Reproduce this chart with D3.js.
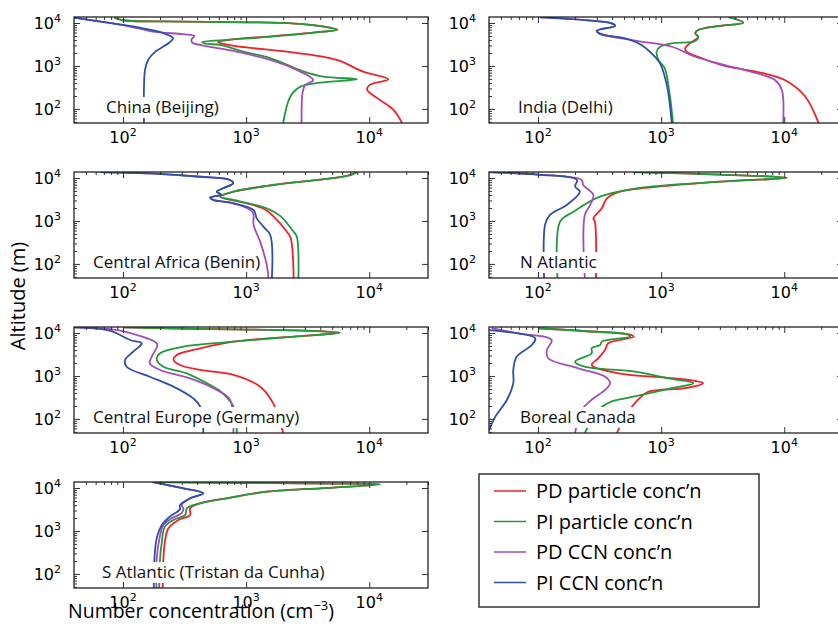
<!DOCTYPE html>
<html>
<head>
<meta charset="utf-8">
<script src="https://cdn.jsdelivr.net/npm/d3@7"></script>
<style>
  body { margin: 0; background: #fff; }
</style>
</head>
<body>
<div id="chart"></div>
<script>
// series: order of drawing = order of legend
const seriesNames = ['PD particle conc\u2019n', 'PI particle conc\u2019n', 'PD CCN conc\u2019n', 'PI CCN conc\u2019n'];
const seriesColors = ['#f2202a', '#23993c', '#a24db8', '#2f4fa8'];

const regions = ['China (Beijing)', 'India (Delhi)', 'Central Africa (Benin)', 'N Atlantic',
    'Central Europe (Germany)', 'Boreal Canada', 'S Atlantic (Tristan da Cunha)'];

const chinaPDpart = [[85,13300],[100,11600],[300,10800],[1000,10400],[2500,9700],[4200,8300],[5500,7000],[4000,6200],[1600,4900],[800,4200],[590,3600],[700,3150],[1010,2700],[2140,2150],[5450,1380],[8900,740],[14300,490],[10100,363],[9600,280],[11600,178],[15700,95],[18500,47]];
const chinaPIpart = [[85,13300],[100,11600],[300,10800],[1000,10400],[2500,9700],[4200,8300],[5500,7000],[4000,6200],[1600,4800],[650,4000],[440,3600],[470,3300],[615,3080],[950,2150],[1570,1530],[2950,740],[4240,563],[7950,490],[4000,410],[2760,330],[2290,195],[2000,47]];
const chinaPDccn = [[40,13300],[70,10500],[110,8500],[175,6300],[307,5500],[380,5000],[360,4100],[365,3500],[430,3050],[839,2150],[1570,1380],[2580,807],[3510,472],[3020,363],[2880,250],[2820,47]];
const chinaPIccn = [[40,13300],[70,10500],[120,8300],[211,5850],[255,4480],[241,3610],[182,2120],[160,1380],[151,807],[148,300],[148,47]];

const indiaPDpart = [[3500,13800],[4650,10200],[2900,8500],[2000,6870],[1890,5760],[2000,4800],[1800,3700],[1650,3080],[1570,2600],[1600,2200],[2140,1510],[3300,1000],[6600,690],[10100,472],[14800,195],[19000,47]];
const indiaPIpart = [[3500,13800],[4650,10200],[2900,8500],[2000,6870],[1890,5760],[2000,4800],[1890,3800],[1220,3370],[980,2800],[920,2150],[950,1380],[1070,880],[1150,330],[1250,47]];
const indiaPDccn = [[104,13500],[240,11700],[397,9800],[423,8600],[300,6600],[330,5500],[617,3880],[1220,2800],[1890,1640],[3300,1050],[6600,620],[8400,472],[9550,280],[9800,47]];
const indiaPIccn = [[104,13500],[240,11700],[397,9800],[423,8600],[300,6600],[320,5500],[510,4400],[692,3080],[890,1640],[980,1150],[1120,330],[1220,47]];

const beninPDpart = [[7950,13800],[7000,11700],[3760,9000],[1660,6870],[789,4800],[615,3670],[760,3080],[1350,2000],[1660,1300],[2140,563],[2300,400],[2430,47]];
const beninPIpart = [[7950,13800],[7000,11700],[3760,9000],[1660,6870],[789,4800],[615,3670],[789,3080],[1470,1970],[1900,1300],[2430,563],[2580,430],[2660,47]];
const beninPDccn = [[65,13800],[165,12800],[423,10700],[740,9000],[785,7540],[650,5760],[577,4800],[630,4100],[510,3500],[540,3100],[789,2580],[1130,1600],[1150,807],[1300,330],[1470,95],[1520,47]];
const beninPIccn = [[65,13800],[165,12800],[423,10700],[740,9000],[785,7540],[650,5760],[577,4800],[630,4100],[510,3500],[540,3100],[789,2580],[1150,1800],[1220,1150],[1380,740],[1570,472],[1620,47]];

const natlPDpart = [[590,13800],[3000,12000],[10500,10200],[3020,8200],[900,6200],[464,4800],[363,3370],[330,1970],[282,1150],[290,960],[296,47]];
const natlPIpart = [[590,13800],[3000,12000],[10500,10200],[3020,8200],[633,5760],[318,3670],[194,1640],[151,960],[144,47]];
const natlPDccn = [[40,13800],[100,12000],[226,9000],[233,6870],[282,4000],[265,2360],[240,1380],[240,47]];
const natlPIccn = [[40,13800],[100,12000],[207,9000],[200,6300],[219,4800],[171,2360],[125,1380],[114,807],[112,47]];

const gerPDpart = [[100,13500],[400,12500],[2500,11500],[5750,10200],[2760,8500],[789,6300],[423,4400],[273,3080],[257,2360],[290,1800],[423,1380],[789,1060],[1300,563],[1660,230],[2000,47]];
const gerPIpart = [[100,13500],[400,12500],[2500,11500],[5750,10200],[2760,8500],[789,6300],[309,4800],[200,3370],[188,2360],[213,1640],[330,1150],[540,563],[600,470],[789,195],[840,47]];
const gerPDccn = [[40,13500],[95,11300],[188,5760],[190,5000],[171,2800],[165,1970],[200,1380],[351,880],[577,472],[740,280],[789,47]];
const gerPIccn = [[40,13500],[78,11300],[114,6870],[142,5760],[121,3670],[104,2360],[107,1640],[165,960],[257,563],[372,300],[423,195],[450,47]];

const canPDpart = [[100,12900],[250,11000],[560,9200],[600,8200],[372,5760],[350,4000],[309,2580],[273,1800],[450,1150],[1290,880],[2190,680],[1570,520],[790,430],[650,280],[510,113],[437,47]];
const canPIpart = [[100,12900],[250,11000],[540,9200],[560,8300],[330,6300],[320,5260],[273,4400],[273,3370],[200,2150],[240,1640],[615,1260],[1150,880],[1830,680],[1220,520],[510,300],[397,255],[309,160],[240,47]];
const canPDccn = [[42,12900],[69,9800],[129,6870],[118,4000],[121,2580],[213,1510],[351,960],[385,680],[351,472],[273,280],[226,160],[200,47]];
const canPIccn = [[40,11700],[95,7540],[89,5260],[67,2800],[63,1380],[63,680],[56,280],[45,113],[40,55]];

const satPDpart = [[180,13800],[1000,13200],[5000,12700],[12300,12200],[5120,10200],[1470,8200],[696,5760],[423,4400],[351,3370],[351,2360],[282,1800],[234,1150],[219,563],[213,230],[210,47]];
const satPIpart = [[180,13800],[1000,13200],[5000,12700],[12300,12200],[5120,10200],[1470,8200],[696,5760],[423,4400],[330,3370],[320,2360],[257,1800],[219,1260],[207,563],[200,230],[197,47]];
const satPDccn = [[175,13800],[290,10200],[450,7540],[351,5760],[300,4000],[309,3370],[300,2600],[248,1970],[213,1380],[198,680],[188,230],[187,47]];
const satPIccn = [[175,13800],[290,10200],[450,7540],[351,5760],[290,4000],[290,3200],[240,2150],[207,1380],[188,680],[180,230],[178,47]];

const profiles = [
    [chinaPDpart, chinaPIpart, chinaPDccn, chinaPIccn],
    [indiaPDpart, indiaPIpart, indiaPDccn, indiaPIccn],
    [beninPDpart, beninPIpart, beninPDccn, beninPIccn],
    [natlPDpart, natlPIpart, natlPDccn, natlPIccn],
    [gerPDpart, gerPIpart, gerPDccn, gerPIccn],
    [canPDpart, canPIpart, canPDccn, canPIccn],
    [satPDpart, satPIpart, satPDccn, satPIccn]
];

const majorTicks = [100, 1000, 10000];
const xMinor = [50,60,70,80,90,200,300,400,500,600,700,800,900,2000,3000,4000,5000,6000,7000,8000,9000,20000,30000];
const yMinor = [50,60,70,80,90,200,300,400,500,600,700,800,900,2000,3000,4000,5000,6000,7000,8000,9000];

// layout
const width = 838, height = 625;
const panelW = 354, panelH = 106;
const colX = [74, 489];
const rowY = [17, 172, 327, 482];
const labelDx = [32, 29, 19, 31, 19, 31, 28];

const svg = d3.select('#chart')
    .append('svg')
    .attr('width', width)
    .attr('height', height);

const x = d3.scaleLog().domain([40, 30000]).range([0, panelW]);
const y = d3.scaleLog().domain([47, 13800]).range([panelH, 0]);

const line = d3.line()
    .x(d => x(d[0]))
    .y(d => y(d[1]))
    .curve(d3.curveCatmullRom.alpha(0.5));

const tickFont = 'DejaVu Sans, sans-serif';
const textFont = 'Open Sans, sans-serif';

function powLabel(sel, exp) {
    sel.append('tspan').text('10');
    sel.append('tspan').attr('dy', -7).style('font-size', '11px').text(exp);
}

regions.forEach((name, i) => {
    const g = svg.append('g')
        .attr('transform', `translate(${colX[i % 2]},${rowY[Math.floor(i / 2)]})`);

    g.append('clipPath').attr('id', 'clip' + i)
        .append('rect').attr('width', panelW).attr('height', panelH);

    g.append('g')
        .attr('clip-path', `url(#clip${i})`)
        .selectAll('path')
        .data(profiles[i])
        .join('path')
        .attr('d', d => line(d))
        .attr('fill', 'none')
        .attr('stroke', (d, k) => seriesColors[k])
        .attr('stroke-width', 1.8)
        .attr('stroke-linejoin', 'round');

    // region label on white box
    const lab = g.append('text')
        .attr('x', labelDx[i])
        .attr('y', 96)
        .style('font-family', textFont)
        .style('font-size', '17px')
        .attr('fill', '#111')
        .text(name);
    const bb = lab.node().getBBox();
    g.insert('rect', () => lab.node())
        .attr('x', bb.x - 2)
        .attr('y', bb.y + 2)
        .attr('width', bb.width + 4)
        .attr('height', bb.height - 2)
        .attr('fill', '#fff');

    // ticks, all inward
    const bottom = g.append('g').attr('transform', `translate(0,${panelH})`);
    bottom.call(d3.axisBottom(x).tickValues(xMinor).tickSize(-3).tickFormat(''));
    bottom.call(d3.axisBottom(x).tickValues(majorTicks).tickSize(-6).tickFormat(''));
    g.append('g').call(d3.axisTop(x).tickValues(xMinor).tickSize(-3).tickFormat(''));
    g.append('g').call(d3.axisTop(x).tickValues(majorTicks).tickSize(-6).tickFormat(''));
    g.append('g').call(d3.axisLeft(y).tickValues(yMinor).tickSize(-3).tickFormat(''));
    g.append('g').call(d3.axisLeft(y).tickValues(majorTicks).tickSize(-6).tickFormat(''));
    const right = g.append('g').attr('transform', `translate(${panelW},0)`);
    right.call(d3.axisRight(y).tickValues(yMinor).tickSize(-3).tickFormat(''));
    right.call(d3.axisRight(y).tickValues(majorTicks).tickSize(-6).tickFormat(''));
    g.selectAll('.domain').remove();
    g.selectAll('.tick line').attr('stroke', '#333');

    g.append('rect')
        .attr('width', panelW)
        .attr('height', panelH)
        .attr('fill', 'none')
        .attr('stroke', '#222')
        .attr('stroke-width', 1.3);

    // tick labels
    g.selectAll('.xlab')
        .data(majorTicks)
        .join('text')
        .attr('class', 'xlab')
        .attr('x', d => x(d))
        .attr('y', panelH + 20)
        .attr('text-anchor', 'middle')
        .style('font-family', tickFont)
        .style('font-size', '16px')
        .each(function(d) { powLabel(d3.select(this), Math.round(Math.log10(d))); });

    g.selectAll('.ylab')
        .data(majorTicks)
        .join('text')
        .attr('class', 'ylab')
        .attr('x', -13)
        .attr('y', d => y(d) + 6)
        .attr('text-anchor', 'end')
        .style('font-family', tickFont)
        .style('font-size', '16px')
        .each(function(d) { powLabel(d3.select(this), Math.round(Math.log10(d))); });
});

// axis titles
svg.append('text')
    .attr('transform', 'translate(25,296) rotate(-90)')
    .attr('text-anchor', 'middle')
    .style('font-family', textFont)
    .style('font-size', '20px')
    .text('Altitude (m)');

const xt = svg.append('text')
    .attr('x', 68)
    .attr('y', 618)
    .style('font-family', textFont)
    .style('font-size', '19.5px');
xt.append('tspan').text('Number concentration (cm');
xt.append('tspan').attr('dy', -8).style('font-size', '13px').text('\u22123');
xt.append('tspan').attr('dy', 8).text(')');

// legend
const legend = svg.append('g').attr('transform', 'translate(479,474)');
legend.append('rect')
    .attr('width', 280)
    .attr('height', 133)
    .attr('fill', '#fff')
    .attr('stroke', '#333')
    .attr('stroke-width', 1.5);
const items = legend.selectAll('.item')
    .data(seriesNames)
    .join('g')
    .attr('class', 'item')
    .attr('transform', (d, k) => `translate(0,${17 + k * 30.5})`);
items.append('line')
    .attr('x1', 15).attr('x2', 47)
    .attr('stroke', (d, k) => seriesColors[k])
    .attr('stroke-width', 1.5);
items.append('text')
    .attr('x', 57)
    .attr('y', 7)
    .style('font-family', textFont)
    .style('font-size', '20px')
    .text(d => d);
</script>
</body>
</html>
